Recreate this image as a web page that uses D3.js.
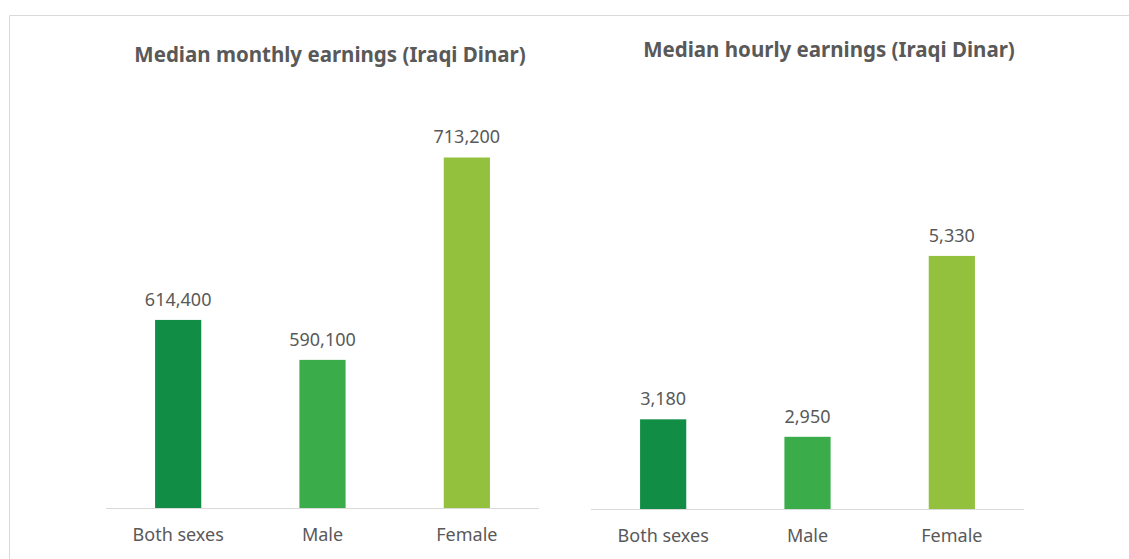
<!DOCTYPE html>
<html>
<head>
<meta charset="utf-8">
<script src="https://cdn.jsdelivr.net/npm/d3@7"></script>
<style>
    html, body { margin: 0; padding: 0; background: #fff; }
    svg { display: block; font-family: 'Noto Sans', 'Open Sans', sans-serif; }
</style>
</head>
<body>
<svg width="1129" height="559"></svg>
<script>
const categories = ['Both sexes', 'Male', 'Female'];
const colors = ['#118d45', '#3aad4a', '#94c13d'];

const monthlyValues = [614400, 590100, 713200];
const hourlyValues = [3180, 2950, 5330];

const panels = [
    { title: 'Median monthly earnings (Iraqi Dinar)', values: monthlyValues, domain: [500000, 750000],
      x0: 106, x1: 539, base: 508, top: 97, titleX: 330, titleY: 62 },
    { title: 'Median hourly earnings (Iraqi Dinar)', values: hourlyValues, domain: [2000, 7000],
      x0: 591, x1: 1024, base: 509, top: 129, titleX: 829, titleY: 57 }
];

const textColor = '#595959';
const fmt = d3.format(',');

const svg = d3.select('svg');

// outer frame (top and left edges visible)
svg.append('line')
    .attr('x1', 9.5).attr('x2', 1129)
    .attr('y1', 15.5).attr('y2', 15.5)
    .style('stroke', '#d9d9d9');
svg.append('line')
    .attr('x1', 9.5).attr('x2', 9.5)
    .attr('y1', 15.5).attr('y2', 559)
    .style('stroke', '#d9d9d9');

panels.forEach(p => {
    const x = d3.scaleBand()
        .domain(categories)
        .range([p.x0, p.x1])
        .paddingInner(0.68)
        .paddingOuter(0.34);

    const y = d3.scaleLinear()
        .domain(p.domain)
        .range([p.base, p.top]);

    const g = svg.append('g');

    g.append('text')
        .attr('x', p.titleX)
        .attr('y', p.titleY)
        .attr('text-anchor', 'middle')
        .style('font-size', '20.5px')
        .style('font-weight', 'bold')
        .style('fill', textColor)
        .text(p.title);

    g.selectAll('.bar')
        .data(p.values)
        .enter()
        .append('rect')
        .attr('class', 'bar')
        .attr('x', (d, i) => x(categories[i]))
        .attr('width', x.bandwidth())
        .attr('y', d => y(d))
        .attr('height', d => p.base - y(d))
        .style('fill', (d, i) => colors[i]);

    g.selectAll('.value')
        .data(p.values)
        .enter()
        .append('text')
        .attr('class', 'value')
        .attr('x', (d, i) => x(categories[i]) + x.bandwidth() / 2)
        .attr('y', d => y(d) - 14)
        .attr('text-anchor', 'middle')
        .style('font-size', '18px')
        .style('fill', textColor)
        .text(d => fmt(d));

    const axis = g.append('g')
        .attr('transform', `translate(0,${p.base})`)
        .call(d3.axisBottom(x).tickSize(0).tickPadding(20));
    axis.select('.domain')
        .attr('d', `M${p.x0},0.5H${p.x1}`)
        .style('stroke', '#d9d9d9');
    axis.selectAll('text')
        .style('font-family', "'Noto Sans', 'Open Sans', sans-serif")
        .style('font-size', '18px')
        .style('fill', textColor);
});
</script>
</body>
</html>
